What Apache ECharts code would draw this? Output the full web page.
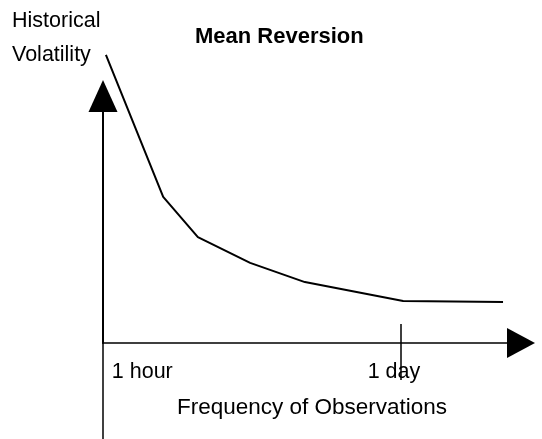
<!DOCTYPE html>
<html>
<head>
<meta charset="utf-8">
<script src="https://cdn.jsdelivr.net/npm/echarts@6/dist/echarts.min.js"></script>
<style>
html,body{margin:0;padding:0;background:#fff;}
#chart{width:542px;height:439px;}
</style>
</head>
<body>
<div id="chart"></div>
<script>
// Data (arbitrary units)
var freqValues = [0.7, 14.4, 22.7, 35.2, 48.3, 71.8, 95.7];
var volValues = [96, 48.7, 35.3, 26.7, 20.3, 14.0, 13.7];
var tickLabels = ['1 hour', '1 day'];
var tickLabelPositions = [9.4, 69.6];
var tickPositions = [71.3];

var FONT = '"Liberation Sans", Arial, Helvetica, sans-serif';
var points = freqValues.map(function (x, i) { return [x, volValues[i]]; });

var chart = echarts.init(document.getElementById('chart'), null, {renderer: 'canvas'});
chart.setOption({
  animation: false,
  backgroundColor: '#fff',
  title: [
    {text: 'Mean Reversion', left: 195, top: 26, padding: 0,
     textStyle: {fontFamily: FONT, fontSize: 22, fontWeight: 'bold', color: '#000'}},
    {text: 'Historical\nVolatility', left: 12, top: 4, padding: 0,
     textStyle: {fontFamily: FONT, fontSize: 21.5, fontWeight: 'normal', color: '#000', lineHeight: 34}}
  ],
  grid: [
    {left: 103, right: 21, top: 96, bottom: 96, containLabel: false, outerBoundsMode: 'none'},
    {left: 103, right: 21, top: 343, bottom: 0, containLabel: false, outerBoundsMode: 'none'}
  ],
  xAxis: [{
    gridIndex: 0,
    type: 'value', min: 0, max: 100,
    name: 'Frequency of Observations', nameLocation: 'middle', nameGap: 53,
    nameTextStyle: {fontFamily: FONT, fontSize: 22.5, color: '#000', padding: [0, 0, 0, 0]},
    axisLine: {show: true, onZero: false, symbol: ['none', 'triangle'], symbolSize: [30, 28],
               lineStyle: {color: '#000', width: 1.5}},
    axisTick: {show: true, inside: true, length: 19, customValues: tickPositions,
               lineStyle: {color: '#000', width: 1.5}},
    axisLabel: {show: true, customValues: tickLabelPositions, margin: 18, hideOverlap: false,
                fontFamily: FONT, fontSize: 21.5, color: '#000',
                formatter: function (v) {
                  for (var i = 0; i < tickLabelPositions.length; i++) {
                    if (Math.abs(tickLabelPositions[i] - v) < 1e-6) return tickLabels[i];
                  }
                  return '';
                }},
    splitLine: {show: false}
  }, {
    gridIndex: 1, type: 'value', min: 0, max: 100, position: 'top',
    axisLine: {show: false, onZero: false},
    axisTick: {show: true, inside: true, length: 37, customValues: tickPositions,
               lineStyle: {color: '#000', width: 1.5}},
    axisLabel: {show: false},
    splitLine: {show: false}
  }],
  yAxis: [{
    gridIndex: 0,
    type: 'value', min: 0, max: 82.33,
    axisLine: {show: true, onZero: false, symbol: ['none', 'triangle'], symbolSize: [29, 32],
               lineStyle: {color: '#000', width: 2}},
    axisTick: {show: false},
    axisLabel: {show: false},
    splitLine: {show: false}
  }, {
    gridIndex: 1,
    type: 'value', min: 0, max: 1,
    axisLine: {show: true, onZero: false, lineStyle: {color: '#000', width: 1.5}},
    axisTick: {show: false},
    axisLabel: {show: false},
    splitLine: {show: false}
  }],
  series: [{
    type: 'line',
    xAxisIndex: 0, yAxisIndex: 0,
    data: points,
    clip: false,
    showSymbol: false,
    symbol: 'none',
    lineStyle: {color: '#000', width: 2}
  }]
});
</script>
</body>
</html>
